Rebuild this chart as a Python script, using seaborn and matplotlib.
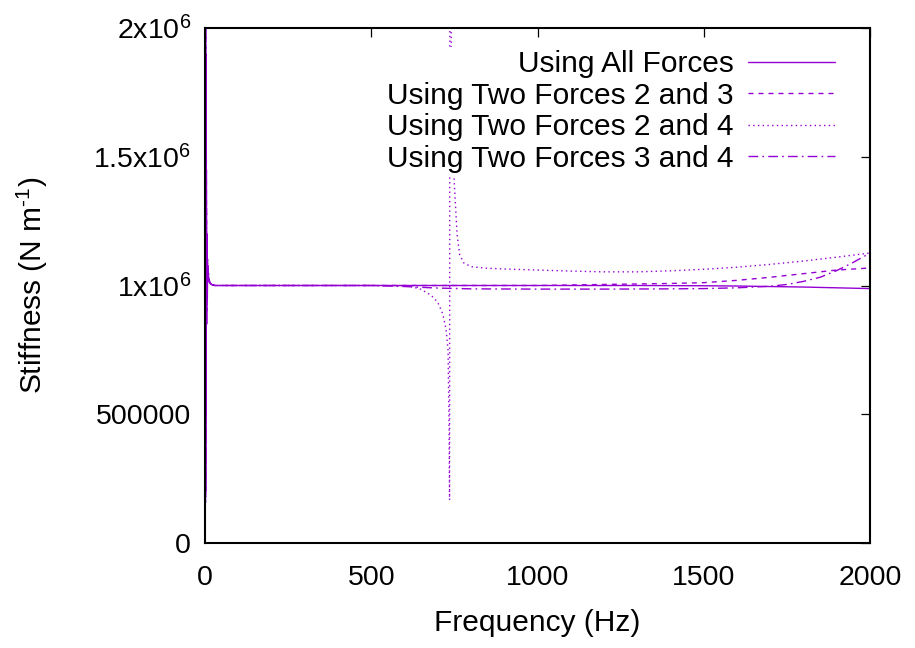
import matplotlib
matplotlib.use("Agg")
import matplotlib.pyplot as plt
import seaborn as sns
import pandas as pd

# Frequency (Hz) and stiffness (N/m) for each force combination
freq_all = [0, 0.7, 1.4, 2.1, 2.8, 3.5, 4.2, 5, 6, 7, 8, 10, 12, 15, 20, 30,
            100, 300, 500, 700, 900, 1100, 1300, 1500, 1600, 1700, 1800, 1900, 2000]
k_all = [2.6e6, 0.05e6, 2.3e6, 0.2e6, 1.9e6, 0.5e6, 1.45e6, 0.85e6, 1.2e6, 0.95e6,
         1.08e6, 1.03e6, 1.015e6, 1.008e6, 1.003e6, 1.0e6,
         1.0e6, 1.0e6, 1.0e6, 1.0e6, 1.0e6, 1.0e6, 1.0e6, 0.999e6, 0.998e6,
         0.996e6, 0.994e6, 0.991e6, 0.988e6]

freq_23 = [0, 0.8, 1.6, 2.4, 3.2, 4, 5, 6, 7, 8, 10, 13, 16, 20, 30,
           100, 300, 500, 700, 900, 1000, 1100, 1200, 1300, 1400, 1500,
           1600, 1700, 1800, 1900, 2000]
k_23 = [0.1e6, 2.5e6, 0.3e6, 2.0e6, 0.6e6, 1.5e6, 0.9e6, 1.15e6, 1.05e6, 1.1e6,
        1.04e6, 1.02e6, 1.01e6, 1.005e6, 1.0e6,
        1.0e6, 1.0e6, 1.0e6, 1.0e6, 1.0e6, 1.0e6, 1.002e6, 1.004e6, 1.006e6,
        1.008e6, 1.011e6, 1.02e6, 1.032e6, 1.046e6, 1.06e6, 1.068e6]

freq_24 = [0, 0.6, 1.2, 1.8, 2.5, 3.2, 4, 5, 6, 8, 10, 13, 16, 20, 30,
           100, 300, 500, 600, 620, 650, 680, 700, 715, 725, 731, 734, 735.5,
           736.5, 742, 748, 758, 766, 778, 800, 850, 900, 1000, 1100, 1200,
           1300, 1400, 1500, 1600, 1700, 1800, 1900, 2000]
k_24 = [2.4e6, 0.0, 2.6e6, 0.4e6, 1.8e6, 0.7e6, 1.35e6, 0.9e6, 1.18e6, 1.06e6,
        1.03e6, 1.015e6, 1.008e6, 1.003e6, 1.0e6,
        1.0e6, 1.0e6, 1.0e6, 0.999e6, 0.996e6, 0.985e6, 0.962e6, 0.935e6,
        0.89e6, 0.83e6, 0.75e6, 0.45e6, 0.167e6,
        2.4e6, 1.8e6, 1.44e6, 1.2e6, 1.12e6, 1.088e6, 1.073e6, 1.067e6,
        1.064e6, 1.06e6, 1.056e6, 1.053e6, 1.053e6, 1.057e6, 1.063e6,
        1.071e6, 1.082e6, 1.095e6, 1.11e6, 1.126e6]

freq_34 = [0, 0.9, 1.7, 2.6, 3.4, 4.3, 5.2, 6.5, 8, 10, 13, 16, 20, 30,
           100, 300, 500, 600, 700, 800, 1000, 1200, 1400, 1500, 1600, 1700,
           1750, 1800, 1850, 1900, 1950, 2000]
k_34 = [0.3e6, 2.2e6, 0.15e6, 1.7e6, 0.75e6, 1.3e6, 0.95e6, 1.12e6, 1.04e6,
        1.06e6, 1.02e6, 1.01e6, 1.004e6, 1.0e6,
        1.0e6, 1.0e6, 1.0e6, 0.996e6, 0.99e6, 0.987e6, 0.986e6, 0.986e6,
        0.987e6, 0.988e6, 0.991e6, 0.997e6, 1.004e6, 1.016e6, 1.032e6,
        1.058e6, 1.09e6, 1.126e6]

labels = ["Using All Forces", "Using Two Forces 2 and 3",
          "Using Two Forces 2 and 4", "Using Two Forces 3 and 4"]
series = [(freq_all, k_all), (freq_23, k_23), (freq_24, k_24), (freq_34, k_34)]

xticks = [0, 500, 1000, 1500, 2000]
yticks = [0, 500000, 1000000, 1500000, 2000000]
ytick_labels = ["0", "500000", r"$\mathrm{1x10^{6}}$",
                r"$\mathrm{1.5x10^{6}}$", r"$\mathrm{2x10^{6}}$"]

sns.set_theme(style="white")
plt.rcParams["font.family"] = ["Liberation Sans", "DejaVu Sans"]
plt.rcParams["mathtext.fontset"] = "custom"
plt.rcParams["mathtext.rm"] = "Liberation Sans"
plt.rcParams["mathtext.it"] = "Liberation Sans:italic"
plt.rcParams["mathtext.bf"] = "Liberation Sans:bold"
plt.rcParams["text.color"] = "black"
plt.rcParams["axes.labelcolor"] = "black"

FS = 21.5
TICK_FS = 20.5
color = "#9400D3"
line_styles = ["-", (0, (3.6, 3.6)), (0, (1.0, 2.4)), (0, (7.0, 3.0, 1.2, 3.0))]

fig = plt.figure(figsize=(9.15, 6.48), dpi=100)
ax = fig.add_axes([205 / 915, 1 - 543 / 648, 665 / 915, 515 / 648])

for (f, k), lab, ls in zip(series, labels, line_styles):
    df = pd.DataFrame({"Frequency": f, "Stiffness": k})
    sns.lineplot(data=df, x="Frequency", y="Stiffness", ax=ax, color=color,
                 linewidth=1.0, linestyle=ls, label=lab, sort=False,
                 estimator=None)

ax.set_xlim(0, 2000)
ax.set_ylim(0, 2e6)
ax.set_xticks(xticks)
ax.set_xticklabels([str(t) for t in xticks])
ax.set_yticks(yticks)
ax.set_yticklabels(ytick_labels)

ax.tick_params(axis="both", which="major", direction="in", length=6.5,
               width=0.9, color="black", labelsize=TICK_FS, labelcolor="black",
               top=True, right=True)
ax.tick_params(axis="x", pad=16)
ax.tick_params(axis="y", pad=10)
for sp in ax.spines.values():
    sp.set_visible(True)
    sp.set_color("black")
    sp.set_linewidth(1.5)

ax.set_xlabel("Frequency (Hz)", fontsize=FS, color="black", labelpad=13)
ax.set_ylabel(r"Stiffness (N m$\mathrm{^{\text{-}1}}$)", fontsize=FS,
              color="black", labelpad=31)

leg = ax.legend(loc="upper right", bbox_to_anchor=(0.952, 0.963),
                borderaxespad=0, borderpad=0.1, fontsize=FS,
                markerfirst=False, handlelength=2.9, handletextpad=0.5,
                labelspacing=0.12, frameon=True, fancybox=False,
                facecolor="white", edgecolor="none", framealpha=1.0)
for col in leg._legend_handle_box.get_children():
    col.align = "right"
for t in leg.get_texts():
    t.set_color("black")

fig.savefig("out.png", dpi=100)
